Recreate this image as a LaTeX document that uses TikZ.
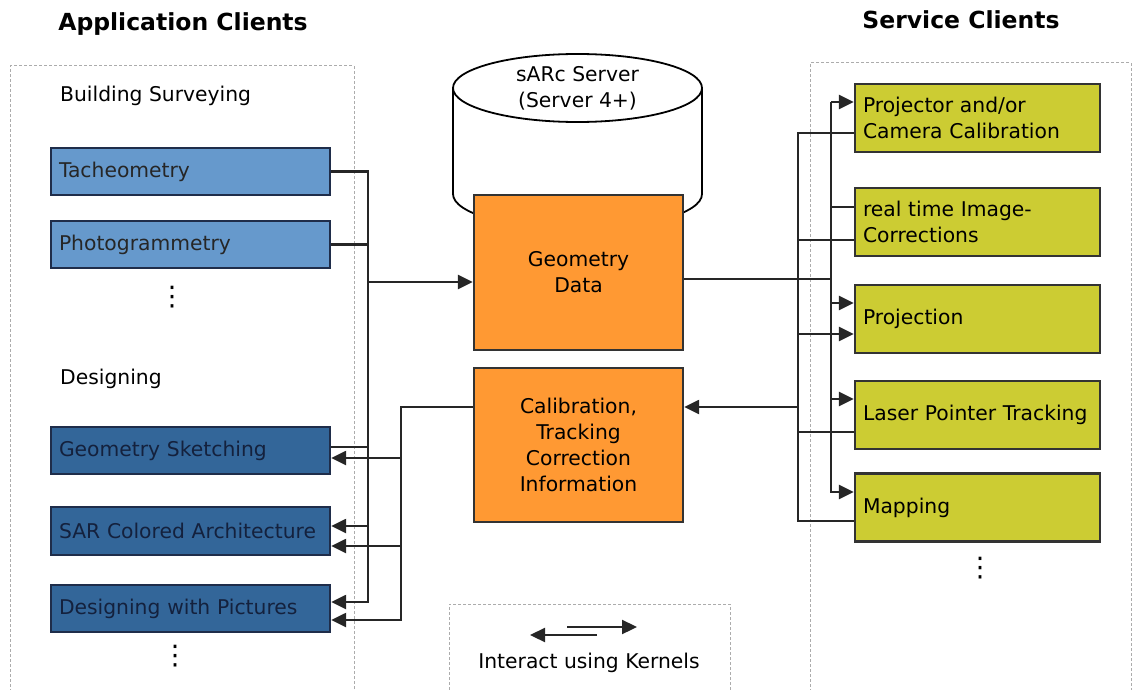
\documentclass[tikz,border=0pt]{standalone}
\usepackage{fontspec}
\setmainfont{DejaVu Sans}
\usetikzlibrary{arrows.meta}
\definecolor{lblue}{HTML}{6699CC}
\definecolor{dblue}{HTML}{336699}
\definecolor{bedge}{HTML}{1F2D4A}
\definecolor{orng}{HTML}{FF9933}
\definecolor{grn}{HTML}{CCCC33}
\definecolor{dtext}{HTML}{14213D}
\begin{document}
\begin{tikzpicture}[x=1pt,y=1pt,
 txt/.style={font=\fontsize{20.3}{26}\selectfont},
 dotst/.style={font=\fontsize{27}{30}\selectfont},
 titlest/.style={font=\fontsize{23.5}{28}\selectfont\bfseries},
 box/.style={txt, line width=2.3pt, align=left, inner xsep=8pt, inner ysep=0pt},
 lbox/.style={box, fill=lblue, draw=bedge, text=black!85, minimum width=279pt, text width=263pt, minimum height=47pt},
 dbox/.style={box, fill=dblue, draw=bedge, text=dtext, minimum width=279pt, text width=263pt, minimum height=47pt},
 gbox/.style={box, fill=grn, draw=black!80, minimum width=245pt, text width=229pt, minimum height=68pt},
 obox/.style={txt, fill=orng, draw=black!80, line width=2.3pt, align=center, minimum width=209pt},
 frame/.style={draw=gray!65, dash pattern=on 3pt off 2pt, line width=1pt},
 wire/.style={line width=2.3pt, draw=black!85},
 arr/.style={wire, -{Triangle[length=15pt,width=14pt]}},
]
\useasboundingbox (0,0) rectangle (1132,-690);

% frames
\node[frame, minimum width=344pt, minimum height=634pt] (lcl) at (182,-383) {};
\node[frame, minimum width=321pt, minimum height=637pt] (rcl) at (970.5,-381.5) {};
\node[frame, minimum width=281pt, minimum height=100pt] (leg) at (589.5,-654) {};

% titles
\node[titlest, anchor=base] (tapp) at (183,-31) {Application Clients};
\node[titlest, anchor=base] (tsrv) at (961,-29) {Service Clients};

% group labels
\node[txt, anchor=base west, inner sep=0pt] (lbs) at (60,-102) {Building Surveying};
\node[txt, anchor=base west, inner sep=0pt] (ldes) at (60,-384) {Designing};

% left boxes
\node[lbox] (tach) at (190.5,-171.5) {Tacheometry};
\node[lbox] (photo) at (190.5,-244.5) {Photogrammetry};
\node[dotst] (dot1) at (172,-297) {⋮};
\node[dbox] (gs) at (190.5,-450.5) {Geometry Sketching};
\node[dbox, minimum height=48pt] (sar) at (190.5,-531) {SAR Colored Architecture};
\node[dbox] (dwp) at (190.5,-608.5) {Designing with Pictures};
\node[dotst] (dot2) at (175,-656) {⋮};

% server cylinder
\draw[line width=1.8pt] (453,-88) -- (453,-194) arc[start angle=180, end angle=360, x radius=124.5pt, y radius=35pt] -- (702,-88);
\draw[line width=1.8pt, fill=white] (577.5,-88) ellipse [x radius=124.5pt, y radius=34pt];
\node[txt, align=center] (srv) at (577.5,-88) {sARc Server\\(Server 4+)};

% orange boxes
\node[obox, minimum height=155pt] (geo) at (578.5,-272.5) {Geometry\\Data};
\node[obox, minimum height=154pt] (cal) at (578.5,-445) {Calibration,\\Tracking\\Correction\\Information};

% right boxes
\node[gbox] (proj) at (977.5,-118) {Projector and/or\\Camera Calibration};
\node[gbox] (rtic) at (977.5,-222) {real time Image-\\Corrections};
\node[gbox] (pjn) at (977.5,-319) {Projection};
\node[gbox] (las) at (977.5,-415) {Laser Pointer Tracking};
\node[gbox] (map) at (977.5,-507.5) {Mapping};
\node[dotst] (dot3) at (980,-568) {⋮};

% legend
\node[txt, anchor=base] (legt) at (589,-668) {Interact using Kernels};
\coordinate (la1) at (597,-635);
\coordinate (la2) at (530,-635);
\coordinate (ra1) at (567,-627);
\coordinate (ra2) at (637,-627);
\draw[arr] (la1) -- (la2);
\draw[arr] (ra1) -- (ra2);

% bus positions
\coordinate (B1) at (368,0);
\coordinate (B2) at (401,0);
\coordinate (BA) at (798,0);
\coordinate (BB) at (831,0);

% left ports
\coordinate (geoIn) at ([yshift=-9.5pt]geo.west);
\coordinate (gsOut) at ([yshift=3.5pt]gs.east);
\coordinate (gsIn) at ([yshift=-7.5pt]gs.east);
\coordinate (sarIn1) at ([yshift=5pt]sar.east);
\coordinate (sarIn2) at ([yshift=-15pt]sar.east);
\coordinate (dwpIn1) at ([yshift=6.5pt]dwp.east);
\coordinate (dwpIn2) at ([yshift=-11.5pt]dwp.east);
\coordinate (calOut) at ([yshift=38pt]cal.west);

\draw[arr] (tach.east) -| (B1 |- dwpIn1) -- (dwpIn1);
\draw[wire] (photo.east) -- (photo.east -| B1);
\draw[arr] (geoIn -| B1) -- (geoIn);
\draw[wire] (gsOut) -- (gsOut -| B1);
\draw[arr] (sarIn1 -| B1) -- (sarIn1);
\draw[arr] (calOut) -| (B2 |- dwpIn2) -- (dwpIn2);
\draw[arr] (gsIn -| B2) -- (gsIn);
\draw[arr] (sarIn2 -| B2) -- (sarIn2);

% right ports
\coordinate (geoOut) at ([yshift=-6.5pt]geo.east);
\coordinate (calIn) at ([yshift=38pt]cal.east);
\coordinate (projIn) at ([yshift=16pt]proj.west);
\coordinate (projOut) at ([yshift=-15pt]proj.west);
\coordinate (rticIn) at ([yshift=15pt]rtic.west);
\coordinate (rticOut) at ([yshift=-18pt]rtic.west);
\coordinate (pjnIn1) at ([yshift=16pt]pjn.west);
\coordinate (pjnIn2) at ([yshift=-15pt]pjn.west);
\coordinate (lasIn) at ([yshift=16pt]las.west);
\coordinate (lasOut) at ([yshift=-17pt]las.west);
\coordinate (mapIn) at ([yshift=15.5pt]map.west);
\coordinate (mapOut) at ([yshift=-13.5pt]map.west);

\draw[arr] (projIn -| BB) -- (projIn);
\draw[arr] (projIn -| BB) |- (mapIn);
\draw[wire] (geoOut) -- (geoOut -| BB);
\draw[wire] (rticIn -| BB) -- (rticIn);
\draw[arr] (pjnIn1 -| BB) -- (pjnIn1);
\draw[arr] (lasIn -| BB) -- (lasIn);

\draw[wire] (projOut) -| (BA |- mapOut) -- (mapOut);
\draw[wire] (rticOut) -- (rticOut -| BA);
\draw[arr] (pjnIn2 -| BA) -- (pjnIn2);
\draw[arr] (calIn -| BA) -- (calIn);
\draw[wire] (lasOut) -- (lasOut -| BA);
\end{tikzpicture}
\end{document}
